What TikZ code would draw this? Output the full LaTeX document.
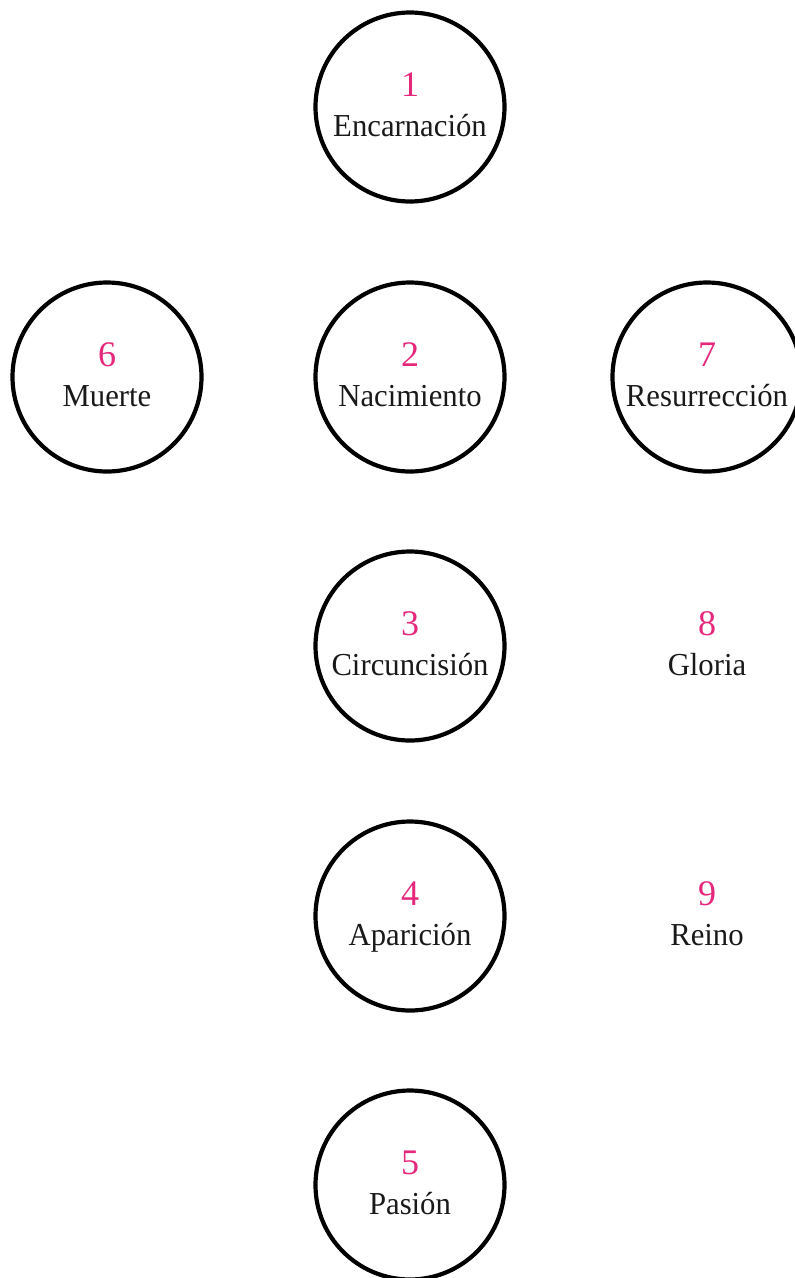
\documentclass[tikz,border=0pt]{standalone}
\usepackage{fontspec}
\setmainfont{Liberation Serif}
\newfontfamily\wordfont[FakeStretch=0.96]{Liberation Serif}
\definecolor{numpink}{RGB}{230,40,125}
\begin{document}
\begin{tikzpicture}[x=1pt,y=1pt,
  ring/.style={circle,draw=black,line width=4.2pt,minimum size=189pt,inner sep=0pt},
  numtxt/.style={anchor=base,inner sep=0pt,text=numpink,font=\fontsize{36}{36}\selectfont},
  wordtxt/.style={anchor=base,inner sep=0pt,text=black!90,font=\wordfont\fontsize{32}{32}\selectfont}]
\useasboundingbox (0,0) rectangle (795,-1278);
% circles
\node[ring] (c1) at (410,-107) {};
\node[ring] (c2) at (410,-377) {};
\node[ring] (c3) at (410,-646) {};
\node[ring] (c4) at (410,-916) {};
\node[ring] (c5) at (410,-1185) {};
\node[ring] (c6) at (107,-377) {};
\node[ring] (c7) at (707,-377) {};
\coordinate (g8) at (707,-646);
\coordinate (g9) at (707,-916);
% numbers
\node[numtxt] (n1) at ([yshift=11pt]c1.center) {1};
\node[numtxt] (n2) at ([yshift=11pt]c2.center) {2};
\node[numtxt] (n3) at ([yshift=11pt]c3.center) {3};
\node[numtxt] (n4) at ([yshift=11pt]c4.center) {4};
\node[numtxt] (n5) at ([yshift=11pt]c5.center) {5};
\node[numtxt] (n6) at ([yshift=11pt]c6.center) {6};
\node[numtxt] (n7) at ([yshift=11pt]c7.center) {7};
\node[numtxt] (n8) at ([yshift=11pt]g8) {8};
\node[numtxt] (n9) at ([yshift=11pt]g9) {9};
% words
\node[wordtxt] (w1) at ([yshift=-29pt]c1.center) {Encarnación};
\node[wordtxt] (w2) at ([yshift=-29pt]c2.center) {Nacimiento};
\node[wordtxt] (w3) at ([yshift=-29pt]c3.center) {Circuncisión};
\node[wordtxt] (w4) at ([yshift=-29pt]c4.center) {Aparición};
\node[wordtxt] (w5) at ([yshift=-29pt]c5.center) {Pasión};
\node[wordtxt] (w6) at ([yshift=-29pt]c6.center) {Muerte};
\node[wordtxt] (w7) at ([yshift=-29pt]c7.center) {Resurrección};
\node[wordtxt] (w8) at ([yshift=-29pt]g8) {Gloria};
\node[wordtxt] (w9) at ([yshift=-29pt]g9) {Reino};
\end{tikzpicture}
\end{document}
